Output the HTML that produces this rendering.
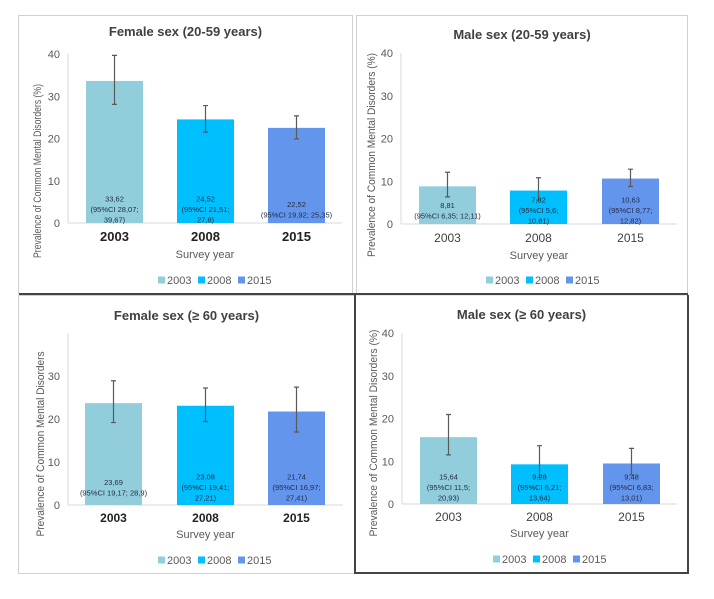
<!DOCTYPE html>
<html><head><meta charset="utf-8"><style>
html,body{margin:0;padding:0;background:#fff}
svg{display:block;font-family:"Liberation Sans",sans-serif}
</style></head><body>
<svg id="chart" width="714" height="599" viewBox="0 0 714 599"></svg>
<script>
const categories = ["2003","2008","2015"];
const femaleYoung = [33.62, 24.52, 22.52];
const femaleYoungLow = [28.07, 21.51, 19.92];
const femaleYoungHigh = [39.67, 27.8, 25.35];
const maleYoung = [8.81, 7.82, 10.63];
const maleYoungLow = [6.35, 5.6, 8.77];
const maleYoungHigh = [12.11, 10.81, 12.82];
const femaleOld = [23.69, 23.08, 21.74];
const femaleOldLow = [19.17, 19.41, 16.97];
const femaleOldHigh = [28.9, 27.21, 27.41];
const maleOld = [15.64, 9.28, 9.48];
const maleOldLow = [11.5, 6.21, 6.83];
const maleOldHigh = [20.93, 13.64, 13.01];
const yTicksTop = [0, 10, 20, 30, 40];
const yTicksFemaleOld = [0, 10, 20, 30];
const labelsFemaleYoung = [["33,62","(95%CI 28,07;","39,67)"],["24,52","(95%CI 21,51;","27,8)"],["22,52","(95%CI 19,92; 25,35)"]];
const labelsMaleYoung = [["8,81","(95%CI 6,35; 12,11)"],["7,82","(95%CI 5,6;","10,81)"],["10,63","(95%CI 8,77;","12,82)"]];
const labelsFemaleOld = [["23,69","(95%CI 19,17; 28,9)"],["23,08","(95%CI 19,41;","27,21)"],["21,74","(95%CI 16,97;","27,41)"]];
const labelsMaleOld = [["15,64","(95%CI 11,5;","20,93)"],["9,28","(95%CI 6,21;","13,64)"],["9,48","(95%CI 6,83;","13,01)"]];
const colors = ["#92CDDC","#00BFFF","#6495ED"];

const NS = "http://www.w3.org/2000/svg";
const svg = document.getElementById("chart");
function mk(tag, attrs, parent, text){
  const e = document.createElementNS(NS, tag);
  for (const k in attrs) e.setAttribute(k, attrs[k]);
  if (text !== undefined) e.textContent = text;
  (parent||svg).appendChild(e);
  return e;
}

function panel(p){
  const g = mk("g", {});
  
  
  const box = mk("rect", {x:p.bx, y:p.by, width:p.bw, height:p.bh, fill:"#fff", stroke:"#d0d0d0", "stroke-width":1}, g);
  
  
  const t = mk("text", {x:p.bx+p.bw/2, y:p.titleY, "text-anchor":"middle", "font-size":13, "font-weight":"bold", fill:"#404040"}, g, p.title);
  
  
  const y = v => p.y0 - (v - 0) * (p.y0 - p.yTop) / p.yMax;
  const ax = mk("line", {x1:p.ax, y1:y(p.yMax), x2:p.ax, y2:p.y0, stroke:"#d9d9d9"}, g);
  
  
  const xl = mk("line", {x1:p.ax, y1:p.y0, x2:p.axEnd, y2:p.y0, stroke:"#d9d9d9"}, g);
  
  
  p.ticks.forEach(v=>{
    const tk = mk("text", {x:p.ax-8, y:y(v)+4, "text-anchor":"end", "font-size":11, fill:"#595959"}, g, String(v));
    
    
  });
  const yt = mk("text", {transform:`translate(${p.ytX},${p.ytY}) rotate(-90)`, "text-anchor":"middle", "font-size":11, fill:"#595959", textLength:p.ytLen, lengthAdjust:"spacingAndGlyphs"}, g, p.yTitle);
  
  
  categories.forEach((c,i)=>{
    const x0 = p.barX[i];
    const bw = p.barW;
    const v = p.vals[i];
    const r = mk("rect", {x:x0, y:y(v), width:bw, height:p.y0-y(v), fill:colors[i]}, g);
    
    
    const cx = x0 + bw/2;
    const eb = mk("path", {d:`M${cx},${y(p.lo[i])}V${y(p.hi[i])}M${cx-2.5},${y(p.lo[i])}H${cx+2.5}M${cx-2.5},${y(p.hi[i])}H${cx+2.5}`, stroke:"#595959", "stroke-width":1.2, fill:"none"}, g);
    
    
    const lines = p.labels[i];
    const mid = p.y0 - p.lblOff;
    lines.forEach((ln,j)=>{
      const ty = mid + (j - (lines.length-1)/2)*10.5 + 3;
      const lt = mk("text", {x:cx, y:ty, "text-anchor":"middle", "font-size":7.5, fill:"#1f2a44"}, g, ln);
      
      
    });
    const cl = mk("text", {x:cx, y:p.catY+4, "text-anchor":"middle", "font-size":p.catSize, "font-weight":p.catBold?"bold":"normal", fill:p.catColor}, g, c);
    
    
  });
  const xt = mk("text", {x:(p.ax+p.axEnd)/2, y:p.svY+4, "text-anchor":"middle", "font-size":11, fill:"#595959"}, g, "Survey year");
  
  
  const lx = p.legX;
  categories.forEach((c,i)=>{
    const ox = lx + i*40;
    const sq = mk("rect", {x:ox, y:p.legY-3.5, width:7, height:7, fill:colors[i]}, g);
    
    
    const lt = mk("text", {x:ox+9, y:p.legY+4, "font-size":11, fill:"#595959"}, g, c);
    
    
  });
}

panel({name:"panel-female-20-59", bx:18.5, by:15.5, bw:334, bh:278, title:"Female sex (20-59 years)", titleY:36,
  ax:68, axEnd:342, y0:223, yTop:54, yMax:40, ticks:yTicksTop, yTitle:"Prevalence of Common Mental Disorders (%)", ytX:41, ytY:171, ytLen:174,
  barX:[86,177,268], barW:57, vals:femaleYoung, lo:femaleYoungLow, hi:femaleYoungHigh, labels:labelsFemaleYoung, lblOff:14,
  catY:237, catSize:13, catBold:true, catColor:"#222", svY:254, legX:158, legY:280});
panel({name:"panel-male-20-59", bx:356.5, by:15.5, bw:331, bh:278, title:"Male sex (20-59 years)", titleY:39,
  ax:401, axEnd:677, y0:224, yTop:53, yMax:40, ticks:yTicksTop, yTitle:"Prevalence of Common Mental Disorders (%)", ytX:375, ytY:155, ytLen:204,
  barX:[419,510,602], barW:57, vals:maleYoung, lo:maleYoungLow, hi:maleYoungHigh, labels:labelsMaleYoung, lblOff:14,
  catY:238, catSize:12, catBold:false, catColor:"#404040", svY:255, legX:486, legY:280});
panel({name:"panel-female-60", bx:18.5, by:295.5, bw:336, bh:278, title:"Female sex (\u2265 60 years)", titleY:320,
  ax:68, axEnd:343, y0:505, yTop:333, yMax:40, ticks:yTicksFemaleOld, yTitle:"Prevalence of Common Mental Disorders", ytX:44, ytY:444, ytLen:185,
  barX:[85,177,268], barW:57, vals:femaleOld, lo:femaleOldLow, hi:femaleOldHigh, labels:labelsFemaleOld, lblOff:18,
  catY:518, catSize:12, catBold:true, catColor:"#222", svY:534, legX:158, legY:560});
panel({name:"panel-male-60", bx:355, by:295, bw:333, bh:278, title:"Male sex (\u2265 60 years)", titleY:319,
  ax:402, axEnd:677, y0:504, yTop:333, yMax:40, ticks:yTicksTop, yTitle:"Prevalence of Common Mental Disorders (%)", ytX:377, ytY:433, ytLen:207,
  barX:[420,511,603], barW:57, vals:maleOld, lo:maleOldLow, hi:maleOldHigh, labels:labelsMaleOld, lblOff:17,
  catY:517, catSize:12, catBold:false, catColor:"#404040", svY:533, legX:493, legY:559});

const sep = mk("path", {d:"M19,294H688M355,295V573H688V295", stroke:"#444", "stroke-width":2, fill:"none"});


</script>
</body></html>
